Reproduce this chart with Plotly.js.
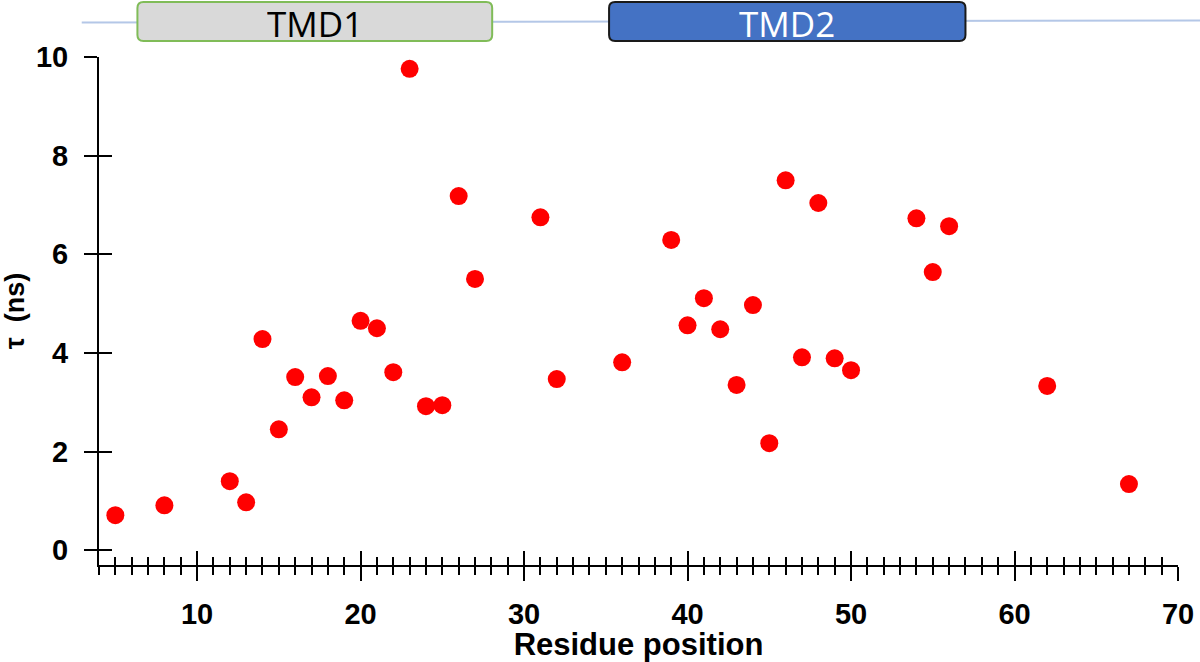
<!DOCTYPE html>
<html>
<head>
<meta charset="utf-8">
<script src="https://cdn.plot.ly/plotly-3.0.1.min.js"></script>
<style>
  html, body { margin: 0; padding: 0; background: #fff; }
  #myDiv { width: 1200px; height: 662px; }
</style>
</head>
<body>
<div id="myDiv"></div>
<script>
// residue positions and lifetimes
var residues = [5, 8, 12, 13, 14, 15, 16, 17, 18, 19, 20, 21, 22, 23, 24, 25, 26, 27,
  31, 32, 36, 39, 40, 41, 42, 43, 44, 45, 46, 47, 48, 49, 50, 54, 55, 56, 62, 67];
var tau = [0.71, 0.91, 1.40, 0.97, 4.28, 2.45, 3.51, 3.10, 3.53, 3.04, 4.65, 4.50, 3.61,
  9.76, 2.92, 2.94, 7.18, 5.50, 6.75, 3.47, 3.81, 6.29, 4.56, 5.11, 4.48, 3.35, 4.97,
  2.17, 7.50, 3.91, 7.04, 3.89, 3.65, 6.73, 5.64, 6.57, 3.33, 1.34];

// transmembrane domains
var tmdNames = ["TMD1", "TMD2"];
var tmdStart = [6.35, 35.2];
var tmdEnd = [28.05, 57.0];
var tmdFill = ["#d9d9d9", "#4472c4"];
var tmdBorder = ["#80bc58", "#1a1a1a"];
var tmdText = ["#000000", "#ffffff"];

var xRange = [4, 70];
var yRange = [-0.3, 10];

// plot area size in px, used to turn the corner radius into axis units
var plotW = 1079;
var plotH = 508;

var trace1 = {
  x: residues,
  y: tau,
  type: "scatter",
  mode: "markers",
  hoverinfo: "none",
  marker: { color: "#ff0000", size: 18 },
  xaxis: "x",
  yaxis: "y",
};

// empty trace so the overlay axes (inner half of the crossing ticks) get drawn
var trace2 = {
  x: [],
  y: [],
  type: "scatter",
  mode: "markers",
  hoverinfo: "none",
  xaxis: "x2",
  yaxis: "y2",
};

var tickFont = { family: "Liberation Sans, Arial, sans-serif", size: 29, weight: 700, color: "#000" };

function roundedBox(x0, x1, y0, y1, r) {
  var rx = r * (xRange[1] - xRange[0]) / plotW;
  var ry = r / plotH;
  return "M" + (x0 + rx) + "," + y0 +
    " L" + (x1 - rx) + "," + y0 +
    " Q" + x1 + "," + y0 + " " + x1 + "," + (y0 + ry) +
    " L" + x1 + "," + (y1 - ry) +
    " Q" + x1 + "," + y1 + " " + (x1 - rx) + "," + y1 +
    " L" + (x0 + rx) + "," + y1 +
    " Q" + x0 + "," + y1 + " " + x0 + "," + (y1 - ry) +
    " L" + x0 + "," + (y0 + ry) +
    " Q" + x0 + "," + y0 + " " + (x0 + rx) + "," + y0 + " Z";
}

var shapes = [
  {
    type: "line",
    xref: "paper",
    yref: "paper",
    x0: -0.016,
    x1: 1.03,
    y0: 1.068,
    y1: 1.072,
    line: { color: "#b4c7e7", width: 2 },
    layer: "below",
  },
];
var annotations = [];
for (var i = 0; i < tmdNames.length; i++) {
  shapes.push({
    type: "path",
    xref: "x",
    yref: "paper",
    path: roundedBox(tmdStart[i], tmdEnd[i], 1.0315, 1.1083, 6),
    fillcolor: tmdFill[i],
    line: { color: tmdBorder[i], width: 2 },
  });
  annotations.push({
    xref: "x",
    yref: "paper",
    x: (tmdStart[i] + tmdEnd[i]) / 2,
    y: 1.1102,
    xanchor: "center",
    yanchor: "top",
    height: 40,
    valign: "middle",
    text: tmdNames[i],
    showarrow: false,
    font: { family: "Open Sans, sans-serif", size: 35, color: tmdText[i] },
  });
}

var layout = {
  width: 1200,
  height: 662,
  margin: { l: 99, r: 22, t: 57, b: 97 },
  paper_bgcolor: "#fff",
  plot_bgcolor: "#fff",
  showlegend: false,
  xaxis: {
    range: xRange,
    showgrid: false,
    zeroline: false,
    showline: true,
    linecolor: "#000",
    linewidth: 2,
    ticks: "outside",
    tick0: 0,
    dtick: 10,
    ticklen: 14,
    tickwidth: 2,
    tickcolor: "#000",
    tickfont: tickFont,
    ticklabelstandoff: 8,
    minor: { ticks: "outside", dtick: 1, tick0: 0, ticklen: 8, tickwidth: 2, tickcolor: "#000", showgrid: false },
    title: {
      text: "Residue position",
      font: { family: "Liberation Sans, Arial, sans-serif", size: 31, weight: 700, color: "#000" },
      standoff: 3,
    },
  },
  yaxis: {
    range: yRange,
    showgrid: false,
    zeroline: false,
    showline: true,
    linecolor: "#000",
    linewidth: 2,
    ticks: "outside",
    tick0: 0,
    dtick: 2,
    ticklen: 13,
    tickwidth: 2,
    tickcolor: "#000",
    tickfont: tickFont,
    ticklabelstandoff: 10,
    title: {
      text: "τ  (ns)",
      font: { family: "Liberation Sans, Arial, sans-serif", size: 27, weight: 700, color: "#000" },
      standoff: 6,
    },
  },
  xaxis2: {
    range: xRange,
    overlaying: "x",
    anchor: "y2",
    side: "bottom",
    showgrid: false,
    zeroline: false,
    showline: false,
    showticklabels: false,
    ticks: "inside",
    tick0: 0,
    dtick: 10,
    ticklen: 14,
    tickwidth: 2,
    tickcolor: "#000",
    minor: { ticks: "inside", dtick: 1, tick0: 0, ticklen: 8, tickwidth: 2, tickcolor: "#000", showgrid: false },
  },
  yaxis2: {
    range: yRange,
    overlaying: "y",
    anchor: "x2",
    side: "left",
    showgrid: false,
    zeroline: false,
    showline: false,
    showticklabels: false,
    ticks: "inside",
    tick0: 0,
    dtick: 2,
    ticklen: 13,
    tickwidth: 2,
    tickcolor: "#000",
  },
  shapes: shapes,
  annotations: annotations,
};

var config = { displayModeBar: false, staticPlot: true };

Plotly.newPlot("myDiv", [trace1, trace2], layout, config);
</script>
</body>
</html>
